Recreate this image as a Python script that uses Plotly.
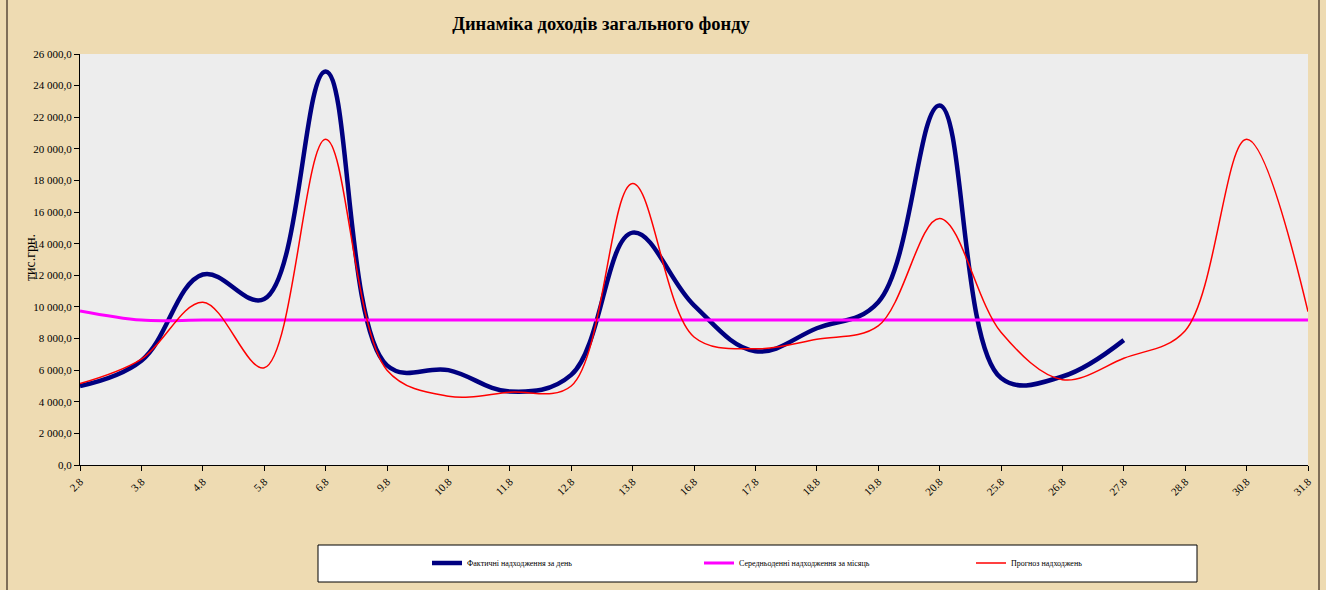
import plotly.graph_objects as go

categories = ["2.8", "3.8", "4.8", "5.8", "6.8", "9.8", "10.8", "11.8", "12.8", "13.8",
              "16.8", "17.8", "18.8", "19.8", "20.8", "25.8", "26.8", "27.8", "28.8",
              "30.8", "31.8"]
fact = [5000, 6600, 12050, 10500, 24900, 6300, 6000, 4650, 5700, 14700,
        10100, 7200, 8650, 10300, 22750, 5500, 5600, 7900, None, None, None]
average = [9750, 9170, 9170, 9170, 9170, 9170, 9170, 9170, 9170, 9170,
           9170, 9170, 9170, 9170, 9170, 9170, 9170, 9170, 9170, 9170, 9170]
forecast = [5150, 6700, 10300, 6150, 20600, 6000, 4350, 4600, 5000, 17800,
            8100, 7350, 7950, 8800, 15600, 8400, 5400, 6750, 8500, 20600, 9700]

names = ["Фактичні надходження за день", "Середньоденні надходження за місяць",
         "Прогноз надходжень"]

W, H = 1326, 590
L, R, T, B = 80, 18, 54, 125
serif = "Liberation Serif, Times New Roman, serif"

fig = go.Figure()
fig.add_trace(go.Scatter(x=categories, y=fact, name=names[0], mode="lines",
                         line=dict(color="#000080", width=4.5, shape="spline", smoothing=1.1),
                         connectgaps=False))
fig.add_trace(go.Scatter(x=categories, y=average, name=names[1], mode="lines",
                         line=dict(color="#ff00ff", width=3, shape="spline", smoothing=1.0)))
fig.add_trace(go.Scatter(x=categories, y=forecast, name=names[2], mode="lines",
                         line=dict(color="#ff0000", width=1.5, shape="spline", smoothing=1.0)))

pw = W - L - R
ph = H - T - B

def px_x(p):
    return (p - L) / pw

def px_y(p):
    return (H - B - p) / ph

fig.update_layout(
    width=W, height=H,
    margin=dict(l=L, r=R, t=T, b=B),
    paper_bgcolor="#eedbb2",
    plot_bgcolor="#ededed",
    separators=", ",
    font=dict(family=serif, color="#000000", size=10),
    title=dict(text="<b>Динаміка доходів загального фонду</b>",
               font=dict(family=serif, size=18.5, color="#000000"),
               x=601 / W, xref="container", xanchor="center",
               y=1 - 24 / H, yref="container", yanchor="middle"),
    xaxis=dict(type="category", range=[0, len(categories) - 1],
               showgrid=False, zeroline=False,
               showline=True, linecolor="#000000", linewidth=1,
               ticks="outside", ticklen=5, tickcolor="#000000",
               tickangle=-45, tickfont=dict(family=serif, size=11)),
    yaxis=dict(range=[0, 26000], dtick=2000, tickformat=",.1f",
               showgrid=False, zeroline=False,
               showline=True, linecolor="#000000", linewidth=1,
               ticks="outside", ticklen=5, tickcolor="#000000",
               tickfont=dict(family=serif, size=11)),
    showlegend=True,
    legend=dict(orientation="h", xref="container", yref="container",
                x=427 / W, xanchor="left", y=1 - 563 / H, yanchor="middle",
                bgcolor="rgba(0,0,0,0)", borderwidth=0,
                entrywidth=227, entrywidthmode="pixels",
                itemwidth=30,
                font=dict(family=serif, size=8, color="#000000")),
    annotations=[dict(text="тис.грн.", xref="paper", yref="paper",
                      x=px_x(30), y=px_y(258), textangle=-90, showarrow=False,
                      xanchor="center", yanchor="middle",
                      font=dict(family=serif, size=14, color="#000000"))],
    shapes=[
        dict(type="rect", xref="paper", yref="paper", layer="below",
             x0=px_x(318), x1=px_x(1197), y0=px_y(582), y1=px_y(545),
             fillcolor="#ffffff", line=dict(color="#000000", width=1)),
        dict(type="line", xref="paper", yref="paper",
             x0=px_x(7), x1=px_x(7), y0=px_y(600), y1=px_y(-10),
             line=dict(color="#5a4a3a", width=1.5)),
        dict(type="line", xref="paper", yref="paper",
             x0=px_x(1319), x1=px_x(1319), y0=px_y(600), y1=px_y(-10),
             line=dict(color="#5a4a3a", width=1.5)),
    ],
)

fig.write_html("out.html", config={"displayModeBar": False},
               post_script="document.body.style.margin='0';document.body.style.overflow='hidden';")
